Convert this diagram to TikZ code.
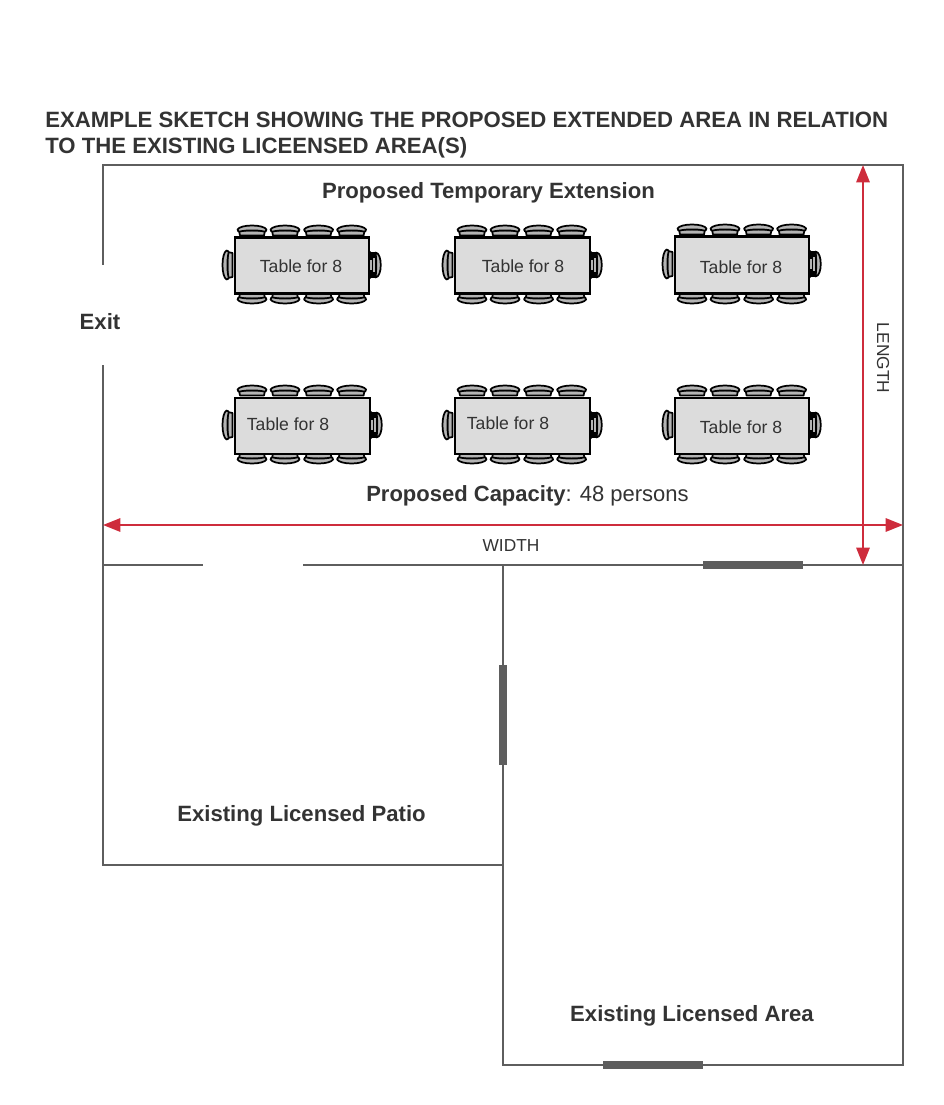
\documentclass[tikz,border=0pt]{standalone}
\usepackage{fontspec}
\setmainfont{Liberation Sans}
\usetikzlibrary{arrows.meta}
\definecolor{wall}{HTML}{5E5E5E}
\definecolor{ink}{HTML}{333333}
\definecolor{redline}{HTML}{CE2C3C}
\definecolor{tablefill}{HTML}{DCDCDC}
\definecolor{chairfill}{HTML}{B4B4B4}
\tikzset{
  x=0.75pt,y=-0.75pt,
  wallline/.style={draw=wall,line width=1.3pt},
  doorline/.style={draw=wall,line width=5.4pt},
  dimline/.style={draw=redline,line width=1.5pt,{Triangle[length=13pt,width=10pt]}-{Triangle[length=13pt,width=10pt]}},
  title/.style={inner sep=0pt,anchor=west,text=ink,font=\fontsize{16.62}{20}\selectfont\bfseries},
  roomlabel/.style={inner sep=0pt,text=ink,font=\fontsize{16.6}{20}\selectfont\bfseries},
  tablelabel/.style={inner sep=0pt,text=ink,font=\fontsize{13.2}{15}\selectfont},
  dimlabel/.style={inner sep=0pt,text=ink,font=\fontsize{13}{14}\selectfont},
  tablebox/.style={draw=black,fill=tablefill,line width=1.7pt,inner sep=0pt,anchor=north west},
  chairline/.style={draw=black,fill=chairfill,line width=1.3pt,line join=round},
  pics/chair/.style={code={
    \path[chairline] (-12,-1) -- (-13,-6) -- (13,-6) -- (12,-1) -- cycle;
    \path[chairline] (-14.5,-7) .. controls (-13,-9.5) and (-7,-11) .. (0,-11)
       .. controls (7,-11) and (13,-9.5) .. (14.5,-7)
       .. controls (14.5,-5) and (13,-4.5) .. (12,-5)
       .. controls (6,-6.5) and (-6,-6.5) .. (-12,-5)
       .. controls (-13,-4.5) and (-14.5,-5) .. (-14.5,-7) -- cycle;
  }},
  pics/armchair/.style={code={
    \fill[black] (-13,-8.5) rectangle (13,-1);
    \fill[chairfill] (-7,-7.5) rectangle (7,-5.5);
    \fill[chairfill] (-5,-4) rectangle (5,-2.5);
    \path[chairline] (-12.5,-8) .. controls (-12,-15) and (12,-15) .. (12.5,-8)
       .. controls (6,-9) and (-6,-9) .. (-12.5,-8) -- cycle;
    \fill[black] (-12,-2) circle (2) (12,-2) circle (2);
  }}
}
\newcommand{\tableset}[5]{%
  \foreach \c in {18.5,51.5,85.1,118.1}{
    \pic at (#2+\c,#3) {chair};
    \pic[rotate=180] at (#2+\c,#3+#5) {chair};
  }
  \pic[rotate=90] at (#2,#3+28.5) {chair};
  \pic[rotate=-90] at (#2+#4,#3+28.5) {armchair};
  \node[tablebox,minimum width=#4*0.75pt,minimum height=#5*0.75pt] (#1) at (#2,#3) {};
}
\begin{document}
\begin{tikzpicture}
\useasboundingbox (0,0) rectangle (944,1105);
% walls
\coordinate (tl) at (103,165); \coordinate (tr) at (903,165);
\coordinate (br) at (903,1065); \coordinate (bm) at (503,1065);
\coordinate (exA) at (103,265); \coordinate (exB) at (103,365);
\coordinate (ml) at (103,565); \coordinate (mm) at (503,565); \coordinate (mr) at (903,565);
\coordinate (dA) at (203,565); \coordinate (dB) at (303,565);
\coordinate (pl) at (103,865); \coordinate (pm) at (503,865);
\draw[wallline] (exA) -- (tl) -- (tr) -- (br) -- (bm) -- (mm);
\draw[wallline] (exB) -- (pl) -- (pm);
\draw[wallline] (ml) -- (dA);
\draw[wallline] (dB) -- (mr);
% doors
\coordinate (d1a) at (703,565); \coordinate (d1b) at (803,565);
\coordinate (d2a) at (503,665); \coordinate (d2b) at (503,765);
\coordinate (d3a) at (603,1065); \coordinate (d3b) at (703,1065);
\draw[doorline] (d1a) -- (d1b);
\draw[doorline] (d2a) -- (d2b);
\draw[doorline] (d3a) -- (d3b);
% dimensions
\coordinate (wA) at (103,525); \coordinate (wB) at (903,525);
\coordinate (lA) at (863,165); \coordinate (lB) at (863,565);
\draw[dimline] (wA) -- (wB);
\draw[dimline] (lA) -- (lB);
% tables
\tableset{t1}{233.5}{236.5}{134}{56}
\tableset{t2}{453.5}{236.5}{135}{56}
\tableset{t3}{673.5}{235.5}{134}{57}
\tableset{t4}{233.5}{396.5}{135}{56}
\tableset{t5}{453.5}{396.5}{135}{56}
\tableset{t6}{673.5}{396.5}{134}{56}
\node[tablelabel] (l1) at (301,266) {Table for 8};
\node[tablelabel] (l2) at (523,266) {Table for 8};
\node[tablelabel] (l3) at (741,267) {Table for 8};
\node[tablelabel] (l4) at (288,424) {Table for 8};
\node[tablelabel] (l5) at (508,423) {Table for 8};
\node[tablelabel] (l6) at (741,427) {Table for 8};
% texts
\node[title] (title1) at (45,120) {EXAMPLE SKETCH SHOWING THE PROPOSED EXTENDED AREA IN RELATION};
\node[title] (title2) at (45,148) {TO THE EXISTING LICEENSED AREA(S)};
\node[roomlabel] (ext) at (488.5,193) {Proposed Temporary Extension};
\node[roomlabel] (exit) at (100,322) {Exit};
\node[inner sep=0pt,text=ink,font=\fontsize{16.5}{20}\selectfont] (cap) at (527.5,496) {\textbf{Proposed Capacity}: 48 persons};
\node[dimlabel] (wlab) at (511,546) {WIDTH};
\node[dimlabel,rotate=-90] (llab) at (883,358) {LENGTH};
\node[roomlabel] (patio) at (301.5,816) {Existing Licensed Patio};
\node[roomlabel] (area) at (692,1016) {Existing Licensed Area};
\end{tikzpicture}
\end{document}
